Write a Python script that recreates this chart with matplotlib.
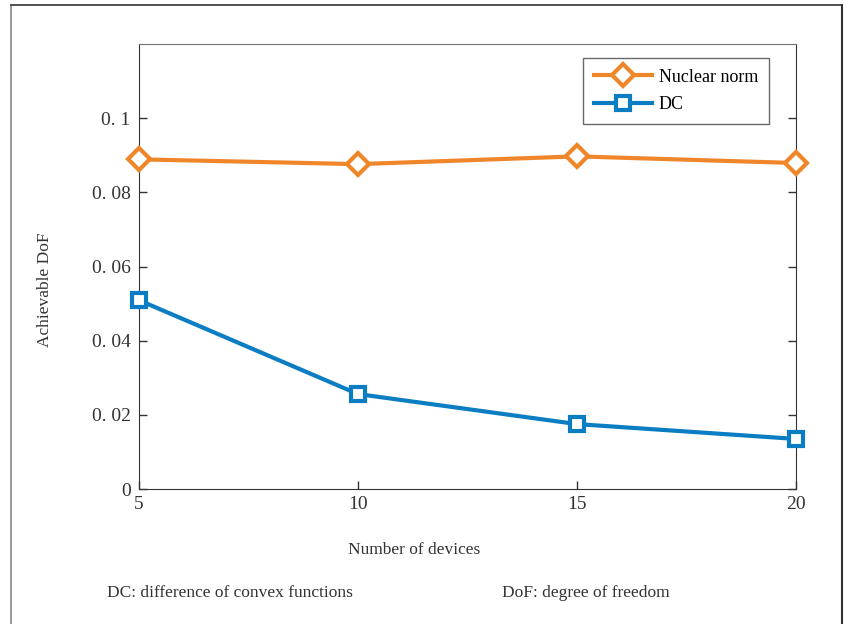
import numpy as np
import matplotlib
matplotlib.use("Agg")
import matplotlib.pyplot as plt
from matplotlib.lines import Line2D

# data
devices = [5, 10, 15, 20]
nuclear_norm = [0.0889, 0.0876, 0.0897, 0.0879]
dc = [0.0509, 0.0256, 0.0175, 0.0135]
y_ticks = [0, 0.02, 0.04, 0.06, 0.08, 0.1]
y_tick_labels = ["0", "0. 02", "0. 04", "0. 06", "0. 08", "0. 1"]
x_ticks = [5, 10, 15, 20]

plt.rcParams["font.family"] = ["Liberation Serif", "DejaVu Serif"]

orange = "#F0862A"
blue = "#0B7DC3"

fig = plt.figure(figsize=(8.44, 6.24), dpi=100)
ax = fig.add_axes([139 / 844, 1 - 489 / 624, 657 / 844, 445 / 624])

ax.plot(devices, nuclear_norm, color=orange, lw=3, marker="D", ms=11,
        mfc="white", mec=orange, mew=3, label="Nuclear norm", clip_on=False, zorder=3)
ax.plot(devices, dc, color=blue, lw=3, marker="s", ms=9.5,
        mfc="white", mec=blue, mew=3, label="DC", clip_on=False, zorder=3)

ax.set_xlim(5, 20)
ax.set_ylim(0, 0.12)
ax.set_xticks(x_ticks)
ax.set_yticks(y_ticks)
ax.set_yticklabels(y_tick_labels)
ax.tick_params(direction="in", length=6, width=1, right=True,
               labelsize=14, colors="#333333", pad=6)
ax.tick_params(axis="x", pad=5)
for s in ["left", "right", "bottom"]:
    ax.spines[s].set_color("#333333")
ax.spines["top"].set_color("#777777")

leg = ax.legend(loc="upper right", bbox_to_anchor=(0.959, 0.969), fontsize=13,
                frameon=True, fancybox=False, edgecolor="#444444",
                handlelength=3.2, borderpad=0.6, labelspacing=0.6, handletextpad=0.4,
                borderaxespad=0)
leg.get_frame().set_linewidth(1)

fig.text(45 / 844, 1 - 290 / 624, "Achievable DoF", rotation=90, ha="center",
         va="center", fontsize=12.5, color="#333333")
fig.text(414 / 844, 1 - 550 / 624, "Number of devices", ha="center", va="center",
         fontsize=12.5, color="#333333")
fig.text(107 / 844, 1 - 593 / 624, "DC: difference of convex functions",
         ha="left", va="center", fontsize=12.5, color="#333333")
fig.text(502 / 844, 1 - 593 / 624, "DoF: degree of freedom",
         ha="left", va="center", fontsize=12.5, color="#333333")

# outer frame (no bottom edge)
fig.add_artist(Line2D([10.5 / 844, 10.5 / 844], [0, 1 - 4.5 / 624], color="#888888", lw=1.2))
fig.add_artist(Line2D([10.5 / 844, 842 / 844], [1 - 4.5 / 624, 1 - 4.5 / 624], color="#333333", lw=1.2))
fig.add_artist(Line2D([842 / 844, 842 / 844], [0, 1 - 4.5 / 624], color="#333333", lw=1.5))

fig.savefig("out.png", dpi=100)
